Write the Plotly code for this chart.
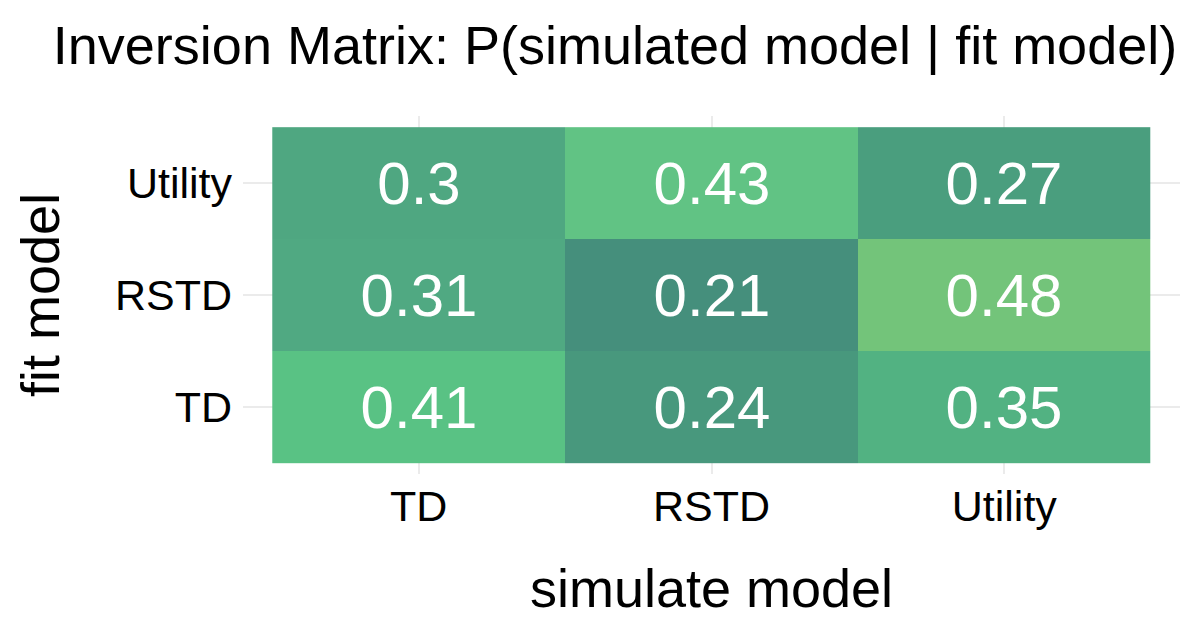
import plotly.graph_objects as go

sim_models = ["TD", "RSTD", "Utility"]
fit_models = ["TD", "RSTD", "Utility"]
# rows = fit model (TD, RSTD, Utility), columns = simulated model
prob_td = [0.41, 0.24, 0.35]
prob_rstd = [0.31, 0.21, 0.48]
prob_utility = [0.3, 0.43, 0.27]
z = [prob_td, prob_rstd, prob_utility]

# colour samples, keyed by value
color_vals = [0.21, 0.24, 0.27, 0.30, 0.31, 0.35, 0.41, 0.43, 0.48]
color_hex = ["#458F7C", "#48987D", "#4A9E7E", "#4FA781", "#50A982",
             "#52B282", "#59C284", "#61C384", "#73C47A"]
vmin, vmax = min(color_vals), max(color_vals)
colorscale = [[(v - vmin) / (vmax - vmin), c] for v, c in zip(color_vals, color_hex)]

FONT = "Liberation Sans, Arial, sans-serif"

fig = go.Figure(go.Heatmap(
    x=sim_models, y=fit_models, z=z,
    colorscale=colorscale, zmin=vmin, zmax=vmax, showscale=False,
    texttemplate="%{z}", textfont=dict(family=FONT, size=60, color="white"),
    xgap=0, ygap=0, hoverinfo="skip",
))

# the page body adds an 8px offset; margins compensate for it
fig.update_layout(
    width=1202, height=643,
    paper_bgcolor="white", plot_bgcolor="white",
    margin=dict(l=235, r=30, t=108, b=177),
    font=dict(family=FONT, color="black"),
    title=dict(text="Inversion Matrix: P(simulated model | fit model)",
               x=607/1202, xanchor="center", xref="container",
               y=1 - 37/643, yanchor="middle", yref="container",
               font=dict(size=54, color="black", family=FONT)),
    showlegend=False,
)
fig.update_xaxes(
    type="category", range=[-0.6, 2.6], showgrid=True, gridcolor="#EBEBEB", gridwidth=2,
    zeroline=False, showline=False, ticks="", tickfont=dict(size=43, color="black"),
    ticklabelstandoff=3,
    title=dict(text="simulate model", font=dict(size=54, color="black"), standoff=40),
)
fig.update_yaxes(
    type="category", range=[-0.6, 2.6], showgrid=True, gridcolor="#EBEBEB", gridwidth=2,
    zeroline=False, showline=False, ticks="", tickfont=dict(size=43, color="black"),
    ticklabelstandoff=10,
    title=dict(text="fit model", font=dict(size=54, color="black"), standoff=38),
)

fig.write_html("out.html")
